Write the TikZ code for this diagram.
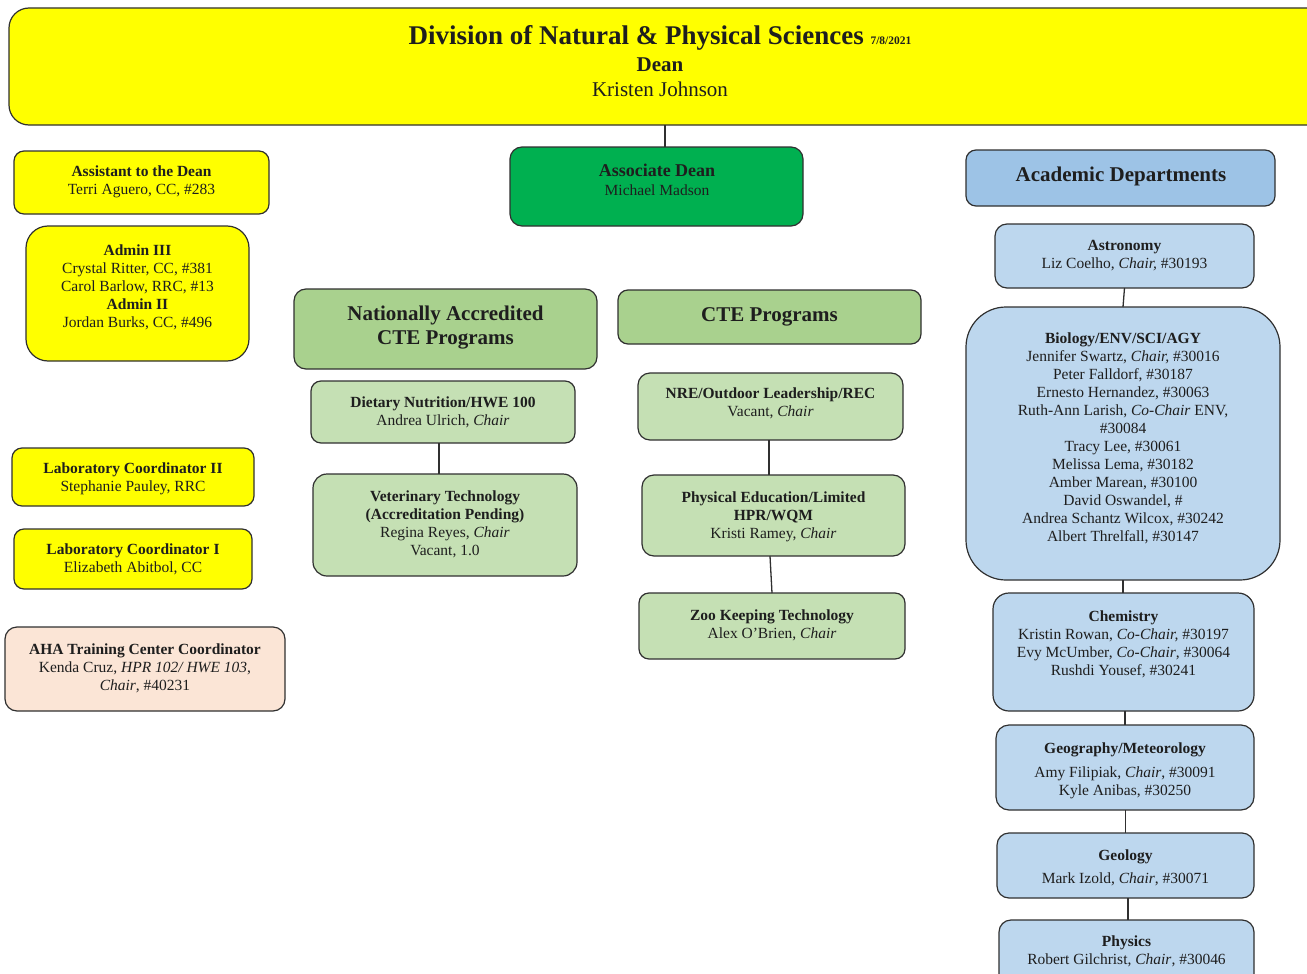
\documentclass[tikz,border=0pt]{standalone}
\usepackage{fontspec}
\setmainfont{Liberation Serif}
\definecolor{yel}{HTML}{FFFF00}
\definecolor{dgreen}{HTML}{00B050}
\definecolor{hgreen}{HTML}{A9D18E}
\definecolor{lgreen}{HTML}{C5E0B4}
\definecolor{hblue}{HTML}{9DC3E6}
\definecolor{lblue}{HTML}{BDD7EE}
\definecolor{peach}{HTML}{FBE5D6}
\definecolor{linec}{HTML}{303030}
\definecolor{txtc}{HTML}{1E1E1E}
\tikzset{
  box/.style={draw=linec, line width=1.2pt, rounded corners=#1pt, inner sep=0pt, outer sep=0pt},
  box/.default=10,
  tx/.style={anchor=north, inner sep=0pt, align=center, text=txtc, font=\fontsize{15.5}{18}\selectfont},
  hd/.style={anchor=base, inner sep=0pt, text=txtc, font=\fontsize{21}{24.5}\selectfont\bfseries},
  conn/.style={draw=linec, line width=1.3pt},
}
\newcommand\OB[7]{\node[box=#7, fill=#2, minimum width={#5-#3}, minimum height={#6-#4}] (#1) at ({(#3+#5)/2},{-(#4+#6)/2}) {};}
\begin{document}
\begin{tikzpicture}[x=1pt,y=1pt]
\useasboundingbox (0,0) rectangle (1307,-974);
% title
\OB{title}{yel}{9}{8}{1345}{125}{20}
\node[anchor=base, inner sep=0pt, text=txtc, font=\fontsize{27}{30}\selectfont\bfseries] (ttl) at (660,-45) {Division of Natural \& Physical Sciences {\fontsize{11.5}{12}\selectfont 7/8/2021}};
\node[anchor=base, inner sep=0pt, text=txtc, font=\fontsize{21}{24}\selectfont\bfseries] (dean) at (660,-72) {Dean};
\node[anchor=base, inner sep=0pt, text=txtc, font=\fontsize{21}{24}\selectfont] (deann) at (660,-96) {Kristen Johnson};
% left column
\OB{asst}{yel}{14}{151}{269}{214}{10}
\node[tx] (asstt) at (asst.center |- 0,-163.4) {\strut\textbf{Assistant to the Dean}\\Terri Aguero, CC, \#283};
\OB{adm}{yel}{26}{226}{249}{361}{22}
\node[tx] (admt) at (adm.center |- 0,-242.4) {\strut\textbf{Admin III}\\Crystal Ritter, CC, \#381\\Carol Barlow, RRC, \#13\\\textbf{Admin II}\\Jordan Burks, CC, \#496};
\OB{labb}{yel}{12}{448}{254}{506}{10}
\node[tx] (labbt) at (labb.center |- 0,-460.4) {\strut\textbf{Laboratory Coordinator II}\\Stephanie Pauley, RRC};
\OB{laba}{yel}{14}{529}{252}{589}{10}
\node[tx] (labat) at (laba.center |- 0,-541.4) {\strut\textbf{Laboratory Coordinator I}\\Elizabeth Abitbol, CC};
\OB{aha}{peach}{5}{627}{285}{711}{12}
\node[tx] (ahat) at (aha.center |- 0,-641.4) {\strut\textbf{AHA Training Center Coordinator}\\Kenda Cruz, \textit{HPR 102/ HWE 103},\\\textit{Chair}, \#40231};
% associate dean
\OB{assoc}{dgreen}{510}{147}{803}{226}{12}
\node[anchor=base, inner sep=0pt, text=txtc, font=\fontsize{18}{20}\selectfont\bfseries] (assoct) at (657,-176) {Associate Dean};
\node[anchor=base, inner sep=0pt, text=txtc, font=\fontsize{15.5}{18}\selectfont] (assocn) at (657,-195) {Michael Madson};
\draw[conn] ([xshift=8.5pt]assoc.north) -- ([xshift=8.5pt]assoc.north |- title.south);
% nationally accredited
\OB{nac}{hgreen}{294}{289}{597}{369}{12}
\node[tx, font=\fontsize{21}{24.5}\selectfont\bfseries] (nact) at (nac.center |- 0,-302.85) {\strut Nationally Accredited\\CTE Programs};
\OB{diet}{lgreen}{311}{381}{575}{443}{10}
\node[tx] (diett) at (diet.center |- 0,-394.4) {\strut\textbf{Dietary Nutrition/HWE 100}\\Andrea Ulrich, \textit{Chair}};
\OB{vet}{lgreen}{313}{474}{577}{576}{14}
\node[tx] (vett) at (vet.center |- 0,-488.4) {\strut\textbf{Veterinary Technology}\\\textbf{(Accreditation Pending)}\\Regina Reyes, \textit{Chair}\\Vacant, 1.0};
\draw[conn] ([xshift=-4pt]diet.south) -- ([xshift=-4pt]diet.south |- vet.north);
% CTE
\OB{cte}{hgreen}{618}{290}{921}{344}{10}
\node[hd] (ctet) at (769.5,-321) {CTE Programs};
\OB{nre}{lgreen}{638}{373}{903}{440}{12}
\node[tx] (nret) at (nre.center |- 0,-385.4) {\strut\textbf{NRE/Outdoor Leadership/REC}\\Vacant, \textit{Chair}};
\OB{phys}{lgreen}{642}{475}{905}{556}{12}
\node[tx] (physt) at (phys.center |- 0,-489.4) {\strut\textbf{Physical Education/Limited}\\\textbf{HPR/WQM}\\Kristi Ramey, \textit{Chair}};
\OB{zoo}{lgreen}{639}{593}{905}{659}{10}
\node[tx] (zoot) at (zoo.center |- 0,-607.4) {\strut\textbf{Zoo Keeping Technology}\\Alex O’Brien, \textit{Chair}};
\draw[conn] ([xshift=-1.5pt]nre.south) -- ([xshift=-1.5pt]nre.south |- phys.north);
\draw[conn] ([xshift=-3.5pt]phys.south) -- (zoo.north);
% academic departments
\OB{acad}{hblue}{966}{150}{1275}{206}{10}
\node[hd] (acadt) at (1121,-181) {Academic Departments};
\OB{astro}{lblue}{995}{224}{1254}{288}{12}
\node[tx] (astrot) at (astro.center |- 0,-237.4) {\strut\textbf{Astronomy}\\Liz Coelho, \textit{Chair,} \#30193};
\OB{bio}{lblue}{966}{307}{1280}{580}{40}
\node[tx] (biot) at (bio.center |- 0,-330.4) {\strut\textbf{Biology/ENV/SCI/AGY}\\Jennifer Swartz, \textit{Chair,} \#30016\\Peter Falldorf, \#30187\\Ernesto Hernandez, \#30063\\Ruth-Ann Larish, \textit{Co-Chair} ENV,\\\#30084\\Tracy Lee, \#30061\\Melissa Lema, \#30182\\Amber Marean, \#30100\\David Oswandel, \#\\Andrea Schantz Wilcox, \#30242\\Albert Threlfall, \#30147};
\OB{chem}{lblue}{993}{593}{1254}{711}{16}
\node[tx] (chemt) at (chem.center |- 0,-608.4) {\strut\textbf{Chemistry}\\Kristin Rowan, \textit{Co-Chair,} \#30197\\Evy McUmber, \textit{Co-Chair}, \#30064\\Rushdi Yousef, \#30241};
\OB{geog}{lblue}{996}{725}{1254}{810}{13}
\node[tx] (geogt) at (geog.center |- 0,-740.4) {\strut\textbf{Geography/Meteorology}\\[6pt]Amy Filipiak, \textit{Chair}, \#30091\\Kyle Anibas, \#30250};
\OB{geol}{lblue}{997}{833}{1254}{898}{12}
\node[tx] (geolt) at (geol.center |- 0,-847.4) {\strut\textbf{Geology}\\[5pt]Mark Izold, \textit{Chair}, \#30071};
\OB{phy}{lblue}{999}{920}{1254}{1000}{12}
\node[tx] (phyt) at (phy.center |- 0,-933.4) {\strut\textbf{Physics}\\Robert Gilchrist, \textit{Chair}, \#30046};
\draw[conn] (astro.south) -- (bio.north);
\draw[conn] (bio.south) -- (bio.south |- chem.north);
\draw[conn] ([xshift=1.5pt]chem.south) -- ([xshift=1.5pt]chem.south |- geog.north);
\draw[conn] ([xshift=0.5pt]geog.south) -- ([xshift=0.5pt]geog.south |- geol.north);
\draw[conn] ([xshift=2.5pt]geol.south) -- ([xshift=2.5pt]geol.south |- phy.north);
\end{tikzpicture}
\end{document}
